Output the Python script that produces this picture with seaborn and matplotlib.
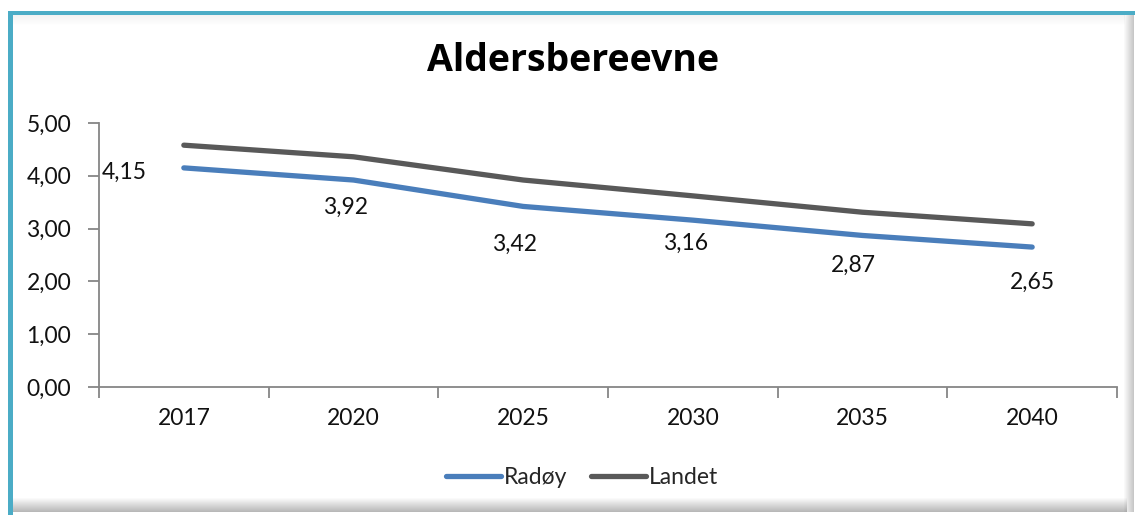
import matplotlib
matplotlib.use("Agg")
import matplotlib.pyplot as plt
import numpy as np
import pandas as pd
import seaborn as sns
from matplotlib.patches import Rectangle

# ------------------------------------------------------------------
# Données
# ------------------------------------------------------------------
years = ["2017", "2020", "2025", "2030", "2035", "2040"]
radoy = [4.15, 3.92, 3.42, 3.16, 2.87, 2.65]
landet = [4.58, 4.36, 3.92, 3.62, 3.31, 3.09]
series_names = ["Radøy", "Landet"]
y_ticks = [0, 1, 2, 3, 4, 5]
title = "Aldersbereevne"

# décalage (px) des étiquettes de Radøy par rapport au point
label_offsets = [(-37, -4), (-8, -27), (-9, -38), (-7, -23), (-9, -30), (0, -35)]

df = pd.DataFrame({
    "år": years * 2,
    "verdi": radoy + landet,
    "serie": [series_names[0]] * len(years) + [series_names[1]] * len(years),
})

sns.set_theme(style="white")
plt.rcParams["font.family"] = ["Lato", "DejaVu Sans"]

FS = 16.5
fig = plt.figure(figsize=(11.35, 5.15), dpi=100)
ax = fig.add_axes([99 / 1135, 1 - 387 / 515, (1117 - 99) / 1135, (387 - 123) / 515])

palette = {"Radøy": "#4a7ebb", "Landet": "#595959"}
sns.lineplot(data=df, x="år", y="verdi", hue="serie", palette=palette,
             linewidth=3.8, solid_capstyle="round", ax=ax, legend=False, sort=False)

# étiquettes de données (série Radøy)
for i, (v, (dx, dy)) in enumerate(zip(radoy, label_offsets)):
    ha = "right" if i == 0 else "center"
    ax.annotate(f"{v:.2f}".replace(".", ","), xy=(i, v), xytext=(dx, dy),
                textcoords="offset pixels", ha=ha, va="center",
                fontsize=FS, color="#111111")

# axes
ax.set_xlim(-0.5, len(years) - 0.5)
ax.set_ylim(0, 5)
ax.set_yticks(y_ticks)
ax.set_yticklabels([f"{t:.2f}".replace(".", ",") for t in y_ticks])
ax.set_xlabel("")
ax.set_ylabel("")
ax.set_xticks(np.arange(-0.5, len(years)), minor=True)
ax.tick_params(axis="x", which="major", length=0, pad=15, labelsize=FS, labelcolor="#111111")
ax.tick_params(axis="x", which="minor", length=8, width=1.3, color="#868686", direction="out")
ax.tick_params(axis="y", which="major", length=8, width=1.3, color="#868686", direction="out",
               pad=12, labelsize=FS, labelcolor="#111111")
ax.xaxis.set_ticks_position("bottom")
ax.yaxis.set_ticks_position("left")
for side in ["top", "right"]:
    ax.spines[side].set_visible(False)
for side in ["left", "bottom"]:
    ax.spines[side].set_color("#868686")
    ax.spines[side].set_linewidth(1.3)

# titre
fig.text(573 / 1135, 1 - 61 / 515, title, ha="center", va="center",
         fontsize=27, fontweight="bold", color="#000000",
         family=["Open Sans", "DejaVu Sans"])

# légende
handles = [plt.Line2D([], [], color=palette[n], linewidth=3.8, solid_capstyle="round")
           for n in series_names]
fig.legend(handles, series_names, loc="center", bbox_to_anchor=(582 / 1135, 1 - 478 / 515),
           ncol=2, frameon=False, fontsize=FS, handlelength=2.4, handletextpad=0.15,
           columnspacing=1.0)

# cadre : bord turquoise en haut et à gauche, ombre grise à droite et en bas
W, H = 1135, 515
def px_rect(x0, y0, x1, y1, **kw):
    fig.patches.append(Rectangle((x0 / W, 1 - y1 / H), (x1 - x0) / W, (y1 - y0) / H,
                                 transform=fig.transFigure, zorder=5, **kw))

for k in range(10):
    a = 0.05 * (1 - k / 10)
    px_rect(12, 15 + k, 1125, 16 + k, color="#000000", alpha=a, linewidth=0)
for k in range(14):
    a = 0.28 * (k + 1) / 14
    px_rect(8, 498 + k, 1127, 499 + k, color="#000000", alpha=a, linewidth=0)
for k in range(10):
    a = 0.22 * (k + 1) / 10
    px_rect(1124 + k, 14, 1125 + k, 512, color="#000000", alpha=a, linewidth=0)
px_rect(8, 11, 1135, 15, color="#4bacc6", linewidth=0)
px_rect(8, 11, 13, 515, color="#4bacc6", linewidth=0)

fig.savefig("out.png", dpi=100)
